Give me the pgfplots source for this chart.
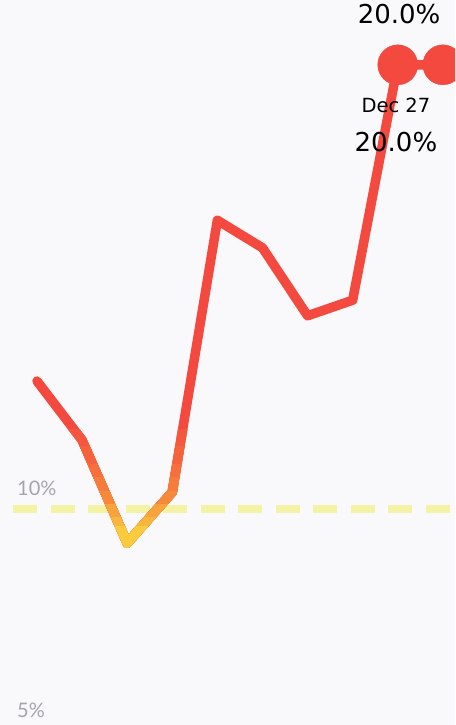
\documentclass[border=0pt]{standalone}
\usepackage{fontspec}
\usepackage{pgfplots}
\usepackage{pgfplotstable}
\pgfplotsset{compat=1.18}
\newfontfamily\lato{Lato}
\newfontfamily\dejavu{DejaVu Sans}
\definecolor{bg}{HTML}{F9F9FC}
\definecolor{linered}{HTML}{F4493F}
\definecolor{lineorange}{HTML}{F7893A}
\definecolor{lineyellow}{HTML}{F9CB3D}
\definecolor{refyellow}{HTML}{F4F2A4}
\definecolor{tickgray}{HTML}{A4A4AC}

% weekly share, %
\pgfplotstableread{
x y
0 12.88
1 11.55
2 9.23
3 10.38
4 16.5
5 15.88
6 14.35
7 14.7
8 20
9 20
}\weekly

% colour the line by its value: everything below #1 is drawn in #2
\newcommand{\band}[2]{%
  \begin{scope}
    \clip (axis cs:-1,4) rectangle (axis cs:10,#1);
    \addplot[#2, line width=9.5pt, line join=round, line cap=round] table {\weekly};
  \end{scope}}

\begin{document}
\begin{tikzpicture}
\begin{axis}[
  scale only axis,
  width=455pt, height=725pt,
  xmin=-0.82, xmax=9.27,
  ymin=5.135, ymax=21.46,
  axis background/.style={fill=bg},
  axis line style={draw=none},
  tick style={draw=none},
  xtick=\empty,
  ytick={10},
  yticklabels={10\%},
  yticklabel style={anchor=base west, inner sep=0pt, xshift=17pt, yshift=13pt,
    font=\lato\fontsize{20}{24}\selectfont, text=tickgray},
  clip marker paths=true,
]
% reference line at 10%
\addplot[refyellow, line width=8pt, dash pattern=on 24pt off 13.5pt, dash phase=24.5pt]
  coordinates {(-0.82,10) (9.27,10)};

\addplot[linered, line width=9.5pt, line join=round, line cap=round] table {\weekly};
\band{11.8}{linered!80!lineorange}
\band{11.4}{linered!60!lineorange}
\band{11.0}{linered!40!lineorange}
\band{10.7}{linered!20!lineorange}
\band{10.4}{lineorange}
\band{10.1}{lineorange!60!lineyellow}
\band{9.8}{lineorange!30!lineyellow}
\band{9.6}{lineyellow}

\addplot[linered, only marks, mark=*, mark size=20pt, mark options={fill=linered, draw=linered}]
  coordinates {(8,20) (9,20)};

\node[font=\dejavu\fontsize{26}{30}\selectfont] at (axis cs:8.03,21.15) {20.0\%};
\node[font=\dejavu\fontsize{19.5}{22}\selectfont] at (axis cs:7.96,19.08) {Dec 27};
\node[font=\dejavu\fontsize{26}{30}\selectfont] at (axis cs:7.96,18.27) {20.0\%};
\node[anchor=base west, inner sep=0pt, xshift=17pt, yshift=13pt,
  font=\lato\fontsize{20}{24}\selectfont, text=tickgray] at (axis cs:-0.82,5) {5\%};
\end{axis}
\pgfresetboundingbox
\useasboundingbox (current axis.south west) rectangle (current axis.north east);
\end{tikzpicture}
\end{document}
